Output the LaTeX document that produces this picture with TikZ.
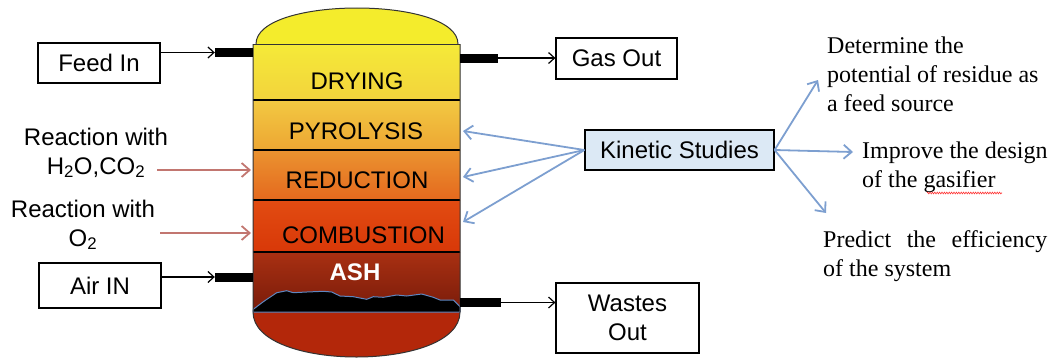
\documentclass[tikz,border=0pt]{standalone}
\usepackage{fontspec}
\setmainfont{Liberation Serif}
\setsansfont{Liberation Sans}
\usetikzlibrary{arrows.meta,decorations.pathmorphing}

\definecolor{domeyellow}{HTML}{F4EC2C}
\definecolor{dryA}{HTML}{F5EA38}
\definecolor{dryB}{HTML}{F2D33C}
\definecolor{pyroA}{HTML}{F2C942}
\definecolor{pyroB}{HTML}{EDA633}
\definecolor{redA}{HTML}{EB9330}
\definecolor{redB}{HTML}{E4691E}
\definecolor{combA}{HTML}{E24C12}
\definecolor{combB}{HTML}{D83808}
\definecolor{ashA}{HTML}{A93012}
\definecolor{ashB}{HTML}{781B0A}
\definecolor{ashbase}{HTML}{B3270A}
\definecolor{pileblue}{HTML}{5F86BF}
\definecolor{kinblue}{HTML}{7D9FD0}
\definecolor{kinfill}{HTML}{DCE9F5}
\definecolor{reactred}{HTML}{C27670}

\tikzset{
  box/.style={draw, line width=1.2pt, font=\sffamily\fontsize{24}{29}\selectfont, align=center, inner sep=0pt},
  zone/.style={font=\sffamily\fontsize{24}{29}\selectfont, inner sep=0pt},
  pipe/.style={fill=black, minimum width=38pt, minimum height=9pt, inner sep=0pt},
  flow/.style={line width=1.2pt, -{Straight Barb[length=6pt,width=11pt]}},
  study/.style={line width=1.8pt, kinblue, -{Straight Barb[length=8pt,width=14pt]}},
  react/.style={line width=1.8pt, reactred, -{Straight Barb[length=8pt,width=14pt]}},
  note/.style={font=\fontsize{24}{29}\selectfont, align=left, inner sep=0pt, anchor=north west},
}

\begin{document}
\begin{tikzpicture}[x=1pt, y=-1pt]
\useasboundingbox (0,0) rectangle (1056,362);

% gasifier body, top to bottom
\fill[domeyellow] (256,44) .. controls (256,-4) and (458,-4) .. (458,44) -- cycle;
\shade[top color=dryA, bottom color=dryB] (253,44) rectangle (460,100);
\shade[top color=pyroA, bottom color=pyroB] (253,100) rectangle (460,150);
\shade[top color=redA, bottom color=redB] (253,150) rectangle (460,200);
\shade[top color=combA, bottom color=combB] (253,200) rectangle (460,252);
\shade[top color=ashA, bottom color=ashB] (253,252) rectangle (460,312);
\fill[ashbase] (253,312) .. controls (253,372) and (460,372) .. (460,312) -- cycle;

% ash heap
\filldraw[fill=black, draw=pileblue, line width=1pt, line join=round]
  (253,312) -- (253.3,309.3) -- (263.3,301.7) -- (276.7,292.7) -- (286.7,290.7)
  -- (293.3,292.7) -- (306.7,292) -- (323.3,291.3) -- (331.7,292) -- (340,296)
  -- (353.3,296.7) -- (366.7,299.3) -- (373.3,296.7) -- (383.3,297.3) -- (396.7,295)
  -- (406.7,296) -- (421.7,294) -- (433.3,297.3) -- (440,300) -- (453.3,300)
  -- (460,306.7) -- (460,312) -- cycle;

% zone borders and shell
\foreach \y in {100,150,200,252}
  \draw[line width=1.5pt] (253,\y) -- (460,\y);
\draw[line width=1pt, black!80] (256,44) .. controls (256,-4) and (458,-4) .. (458,44);
\draw[line width=1pt, black!80] (253,44) -- (460,44);
\draw[line width=1pt, black!80] (253,44) -- (253,312) .. controls (253,372) and (460,372) .. (460,312) -- (460,44);

% zone names
\node[zone] (drying) at (357,81.5) {DRYING};
\node[zone] (pyrolysis) at (356,131) {PYROLYSIS};
\node[zone] (reduction) at (357,180) {REDUCTION};
\node[zone] (combustion) at (363.5,235.5) {COMBUSTION};
\node[zone, text=white, font=\sffamily\bfseries\fontsize{24}{29}\selectfont] (ash) at (355,272.5) {ASH};

% nozzles
\node[pipe] (feedpipe) at (234,52.5) {};
\node[pipe] (airpipe) at (234,277) {};
\node[pipe] (gaspipe) at (479,58) {};
\node[pipe, minimum width=41pt] (wastepipe) at (480.5,302.5) {};

% streams in and out
\node[box, minimum width=122pt, minimum height=40pt] (feed) at (99,63) {Feed In};
\node[box, minimum width=122pt, minimum height=45pt] (air) at (100,285.5) {Air IN};
\node[box, minimum width=121pt, minimum height=41pt] (gasout) at (616.5,58.5) {Gas Out};
\node[box, minimum width=143pt, minimum height=70pt] (wastes) at (627.5,318) {Wastes\\Out};

\draw[flow] (feed.east |- feedpipe) -- (feedpipe.west);
\draw[flow] (air.east |- airpipe) -- (airpipe.west);
\draw[flow] (gaspipe.east) -- (gasout.west |- gaspipe);
\draw[flow] (wastepipe.east) -- (wastes.west |- wastepipe);

% reactions
\node[zone, align=center, anchor=north] (rxnsteam) at (96,127.5) {Reaction with\\H\textsubscript{2}O,CO\textsubscript{2}};
\node[zone, align=center, anchor=north] (rxnoxy) at (83,199.5) {Reaction with\\O\textsubscript{2}};
\coordinate (steamfrom) at (157,170);
\coordinate (steamto) at (251,170);
\coordinate (oxyfrom) at (160,233);
\coordinate (oxyto) at (251,233);
\draw[react] (steamfrom) -- (steamto);
\draw[react] (oxyfrom) -- (oxyto);

% kinetic studies
\node[box, fill=kinfill, minimum width=189pt, minimum height=40pt] (kinetic) at (679.5,150) {Kinetic Studies};
\coordinate (pyroR) at (463,131);
\coordinate (redR) at (463,177);
\coordinate (combR) at (463,222);
\foreach \t in {pyroR,redR,combR}
  \draw[study] (kinetic.west) -- (\t);

\coordinate (aimA) at (818,80);
\coordinate (aimB) at (853,152);
\coordinate (aimC) at (826,213);
\foreach \t in {aimA,aimB,aimC}
  \draw[study] (kinetic.east) -- (\t);

\node[note] (potential) at (827,36.6) {Determine the\\potential of residue as\\a feed source};
\node[note] (design) at (862,141.6) {Improve the design\\of the gasifier};
\node[note] (efficiency) at (823,230.6) {\makebox[224pt][s]{Predict the efficiency}\\of the system};
\draw[red!80, line width=0.6pt, decorate, decoration={zigzag, amplitude=0.9pt, segment length=2.4pt}]
  (927,193) -- (1002,193);

\end{tikzpicture}
\end{document}
